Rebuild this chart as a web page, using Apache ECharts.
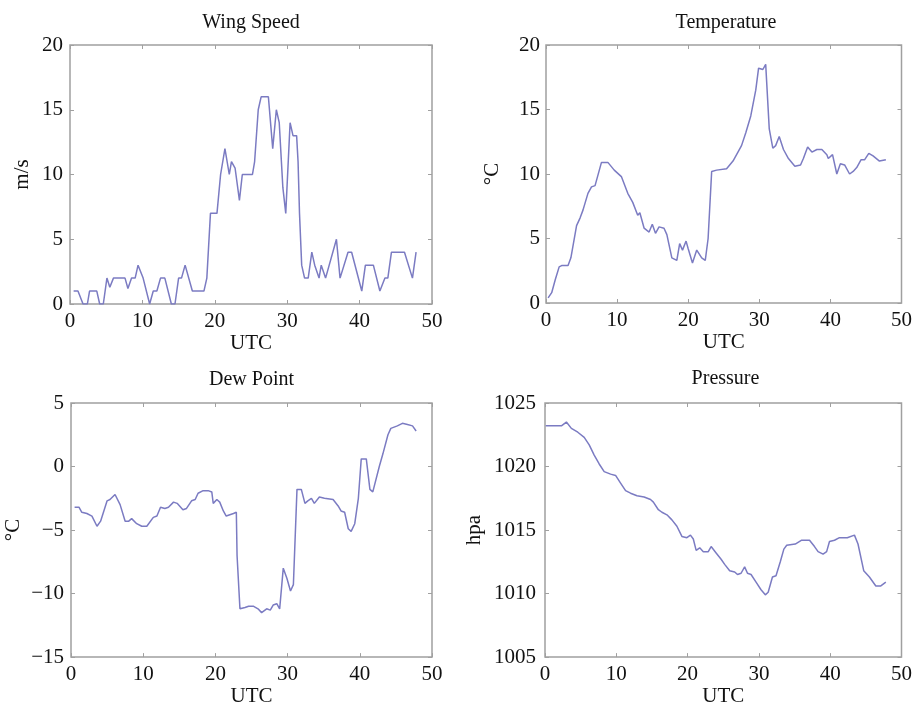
<!DOCTYPE html>
<html>
<head>
<meta charset="utf-8">
<script src="https://cdn.jsdelivr.net/npm/echarts@6/dist/echarts.min.js"></script>
<style>
  html, body { margin: 0; padding: 0; background: #fff; }
  #chart { width: 915px; height: 708px; }
</style>
</head>
<body>
<div id="chart"></div>
<script>
// hours UTC, readings as [t, value]
const windSpeed = [
  [0.5, 1], [1.1, 1], [1.8, 0], [2.4, 0], [2.7, 1], [3.7, 1], [4.1, 0], [4.6, 0],
  [5.1, 2], [5.5, 1.3], [6.0, 2], [7.6, 2], [8.0, 1.2], [8.5, 2], [9.0, 2], [9.4, 3],
  [10.1, 2], [11.0, 0], [11.5, 1], [12.0, 1], [12.5, 2], [13.1, 2], [14.0, 0], [14.5, 0],
  [15.0, 2], [15.4, 2], [15.9, 3], [16.9, 1], [18.5, 1], [18.9, 2], [19.4, 7], [20.3, 7],
  [20.8, 10], [21.4, 12], [22.0, 10], [22.3, 11], [22.8, 10.5], [23.4, 8], [23.8, 10],
  [25.2, 10], [25.5, 11], [26.0, 15], [26.4, 16], [27.4, 16], [28.0, 12], [28.5, 15],
  [28.9, 14], [29.4, 9], [29.8, 7], [30.4, 14], [30.8, 13], [31.3, 13], [31.5, 11],
  [31.7, 7], [32.0, 3], [32.4, 2], [32.9, 2], [33.4, 4], [33.8, 3], [34.4, 2], [34.7, 3],
  [35.3, 2], [36.8, 5], [37.3, 2], [38.4, 4], [38.9, 4], [40.3, 1], [40.8, 3], [41.9, 3],
  [42.8, 1], [43.5, 2], [43.9, 2], [44.4, 4], [46.2, 4], [47.3, 2], [47.8, 4]
];
const temperature = [
  [0.3, 0.4], [0.8, 0.8], [1.3, 1.8], [1.85, 2.8], [2.2, 2.9], [3.1, 2.9], [3.5, 3.5],
  [4.3, 6.0], [4.8, 6.6], [5.2, 7.2], [5.9, 8.5], [6.4, 9.0], [6.9, 9.1], [7.8, 10.9],
  [8.7, 10.9], [9.6, 10.3], [10.6, 9.8], [11.5, 8.5], [12.2, 7.8], [12.9, 6.8], [13.2, 7.0],
  [13.8, 5.8], [14.5, 5.5], [14.95, 6.1], [15.4, 5.4], [15.9, 5.9], [16.6, 5.8], [17.0, 5.3],
  [17.7, 3.5], [18.4, 3.3], [18.8, 4.6], [19.2, 4.1], [19.7, 4.8], [20.0, 4.2], [20.6, 3.1],
  [21.2, 4.1], [21.9, 3.5], [22.4, 3.3], [22.8, 5.0], [23.3, 10.2], [24.0, 10.3], [25.4, 10.4],
  [26.3, 11.0], [27.5, 12.2], [28.1, 13.2], [28.8, 14.5], [29.5, 16.5], [29.9, 18.2],
  [30.5, 18.1], [30.9, 18.5], [31.4, 13.5], [31.9, 12.0], [32.3, 12.2], [32.8, 12.9],
  [33.4, 11.9], [34.1, 11.2], [35.0, 10.6], [35.8, 10.7], [36.2, 11.2], [36.8, 12.1],
  [37.4, 11.7], [38.1, 11.9], [38.8, 11.9], [39.5, 11.5], [39.7, 11.2], [40.3, 11.5],
  [40.9, 10.0], [41.4, 10.8], [42.0, 10.7], [42.7, 10.0], [43.2, 10.2], [43.7, 10.5],
  [44.3, 11.1], [44.8, 11.1], [45.4, 11.6], [46.0, 11.4], [46.9, 11.0], [47.8, 11.1]
];
const dewPoint = [
  [0.5, -3.2], [1.1, -3.2], [1.5, -3.6], [2.2, -3.7], [2.9, -3.9], [3.6, -4.7], [4.1, -4.3],
  [5.0, -2.7], [5.4, -2.6], [6.1, -2.2], [6.8, -3.0], [7.5, -4.3], [8.0, -4.3], [8.4, -4.1],
  [9.1, -4.5], [9.8, -4.7], [10.5, -4.7], [11.4, -4.0], [11.9, -3.9], [12.4, -3.2],
  [13.0, -3.3], [13.5, -3.2], [14.2, -2.8], [14.7, -2.9], [15.5, -3.4], [16.0, -3.3],
  [16.7, -2.7], [17.2, -2.6], [17.6, -2.1], [18.3, -1.9], [19.0, -1.9], [19.5, -2.0],
  [19.7, -2.9], [20.2, -2.6], [20.6, -2.8], [21.1, -3.5], [21.5, -3.9], [22.0, -3.8],
  [22.5, -3.7], [22.9, -3.6], [23.0, -7.0], [23.4, -11.2], [24.1, -11.1], [24.6, -11.0],
  [25.3, -11.0], [25.9, -11.2], [26.4, -11.5], [27.1, -11.2], [27.6, -11.3], [28.0, -10.9],
  [28.5, -10.8], [28.9, -11.2], [29.4, -8.0], [29.9, -8.8], [30.4, -9.8], [30.8, -9.3],
  [31.3, -1.8], [31.9, -1.8], [32.4, -2.9], [32.8, -2.7], [33.3, -2.5], [33.7, -2.9],
  [34.4, -2.4], [35.1, -2.5], [36.3, -2.6], [37.0, -3.1], [37.4, -3.5], [37.9, -3.6],
  [38.4, -4.9], [38.8, -5.1], [39.3, -4.5], [39.8, -2.5], [40.2, 0.6], [40.9, 0.6],
  [41.4, -1.8], [41.8, -2.0], [42.7, 0.0], [43.2, 1.0], [43.9, 2.5], [44.3, 3.0],
  [45.2, 3.2], [45.9, 3.4], [46.6, 3.3], [47.3, 3.2], [47.8, 2.8]
];
const pressure = [
  [0.1, 1023.2], [1.4, 1023.2], [2.3, 1023.2], [3.0, 1023.5], [3.7, 1023.0], [4.6, 1022.7],
  [5.5, 1022.3], [6.2, 1021.7], [6.9, 1020.9], [7.6, 1020.2], [8.3, 1019.6], [9.2, 1019.4],
  [9.9, 1019.3], [10.6, 1018.7], [11.3, 1018.1], [12.0, 1017.9], [12.9, 1017.7],
  [13.9, 1017.6], [14.8, 1017.4], [15.2, 1017.2], [15.9, 1016.6], [16.4, 1016.4],
  [17.1, 1016.2], [17.8, 1015.8], [18.5, 1015.3], [19.2, 1014.5], [19.9, 1014.4],
  [20.4, 1014.6], [20.8, 1014.3], [21.2, 1013.4], [21.7, 1013.6], [22.2, 1013.3],
  [22.9, 1013.3], [23.3, 1013.7], [24.0, 1013.2], [24.7, 1012.7], [25.2, 1012.3],
  [25.9, 1011.8], [26.6, 1011.7], [27.0, 1011.5], [27.5, 1011.6], [28.0, 1012.1],
  [28.4, 1011.6], [28.9, 1011.5], [29.6, 1010.9], [30.3, 1010.3], [30.9, 1009.9],
  [31.3, 1010.1], [31.9, 1011.3], [32.4, 1011.4], [33.0, 1012.5], [33.5, 1013.5],
  [33.9, 1013.8], [35.1, 1013.9], [36.0, 1014.2], [37.1, 1014.2], [37.8, 1013.7],
  [38.3, 1013.3], [39.0, 1013.1], [39.5, 1013.3], [39.9, 1014.1], [40.6, 1014.2],
  [41.3, 1014.4], [41.7, 1014.4], [42.4, 1014.4], [43.4, 1014.6], [43.9, 1013.9],
  [44.7, 1011.8], [45.5, 1011.3], [46.4, 1010.6], [47.1, 1010.6], [47.8, 1010.9]
];

const titles = ['Wing Speed', 'Temperature', 'Dew Point', 'Pressure'];
const yNames = ['m/s', '°C', '°C', 'hpa'];
const yRanges = [[0, 20], [0, 20], [-15, 5], [1005, 1025]];
const xTicks = [0, 50, 10];

const FONT = 'Liberation Serif';
const LINE = '#7b7bc2';
const BOX = '#a0a0a0';

const panels = [
  { data: windSpeed,   left: 70,  top: 45,  w: 362, h: 259, titleTop: 13,  yGap: 37, yMargin: 7 },
  { data: temperature, left: 546, top: 45,  w: 360, h: 258, titleTop: 13,  yGap: 43, yMargin: 6 },
  { data: dewPoint,    left: 71,  top: 403, w: 361, h: 258, titleTop: 370, yGap: 47, yMargin: 7 },
  { data: pressure,    left: 545, top: 403, w: 361, h: 259, titleTop: 369, yGap: 60, yMargin: 9 }
];

const minus = v => String(v).replace('-', '\u2212');
const tickStyle = { show: true, inside: true, length: 4, lineStyle: { color: BOX, width: 1 } };
const noLine = { show: false, onZero: false };

const option = {
  animation: false,
  backgroundColor: '#fff',
  title: [], grid: [], xAxis: [], yAxis: [], series: []
};

panels.forEach((p, i) => {
  option.title.push({
    text: titles[i],
    left: p.left + p.w / 2,
    top: p.titleTop,
    textAlign: 'center',
    padding: 0,
    textStyle: { fontFamily: FONT, fontSize: 20, fontWeight: 'normal', color: '#111' }
  });
  option.grid.push({
    left: p.left, top: p.top, width: p.w, height: p.h,
    show: true, borderColor: BOX, borderWidth: 1.5, backgroundColor: '#fff'
  });
  const xBase = {
    type: 'value', gridIndex: i, min: xTicks[0], max: xTicks[1], interval: xTicks[2],
    splitLine: { show: false }, axisLine: noLine, axisTick: tickStyle
  };
  option.xAxis.push(Object.assign({}, xBase, {
    position: 'bottom',
    name: 'UTC', nameLocation: 'middle', nameGap: 28,
    nameTextStyle: { fontFamily: FONT, fontSize: 21, color: '#111' },
    axisLabel: { fontFamily: FONT, fontSize: 21, color: '#111', margin: 7 }
  }));
  option.xAxis.push(Object.assign({}, xBase, { position: 'top', axisLabel: { show: false } }));
  const yBase = {
    type: 'value', gridIndex: i, min: yRanges[i][0], max: yRanges[i][1], interval: 5,
    splitLine: { show: false }, axisLine: noLine, axisTick: tickStyle
  };
  option.yAxis.push(Object.assign({}, yBase, {
    position: 'left',
    name: yNames[i], nameLocation: 'middle', nameGap: p.yGap,
    nameTextStyle: { fontFamily: FONT, fontSize: 21, color: '#111' },
    axisLabel: { fontFamily: FONT, fontSize: 21, color: '#111', margin: p.yMargin, formatter: minus }
  }));
  option.yAxis.push(Object.assign({}, yBase, { position: 'right', axisLabel: { show: false } }));
  option.series.push({
    type: 'line',
    xAxisIndex: i * 2,
    yAxisIndex: i * 2,
    data: p.data,
    showSymbol: false,
    lineStyle: { color: LINE, width: 1.5 },
    silent: true
  });
});

const chart = echarts.init(document.getElementById('chart'));
chart.setOption(option);
</script>
</body>
</html>
